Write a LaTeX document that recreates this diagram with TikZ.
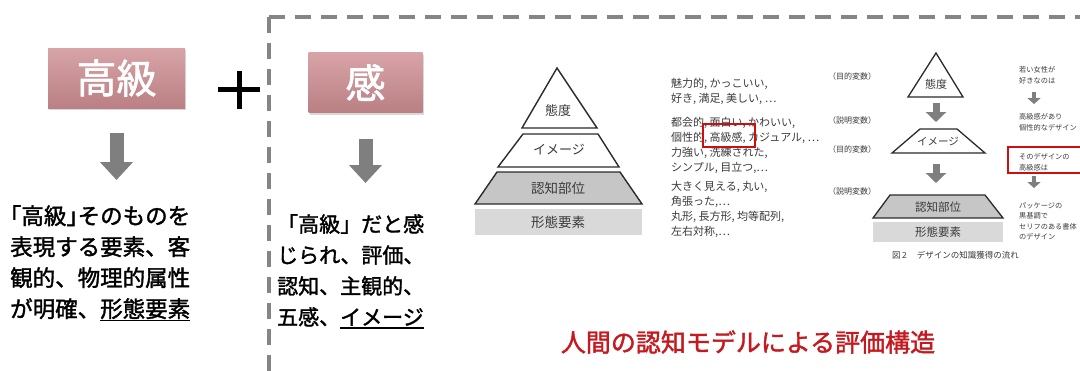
\documentclass[tikz,border=0pt]{standalone}
\usepackage{fontspec}
\setmainfont{Noto Sans CJK JP}
\newfontfamily\jpmed[FakeBold=1.6]{Noto Sans CJK JP}
\newfontfamily\jphalt[FakeBold=1.6,RawFeature=+halt]{Noto Sans CJK JP}
\usetikzlibrary{shapes.arrows,shadows,arrows.meta}
\definecolor{dashgray}{HTML}{858585}
\definecolor{arrgray}{HTML}{7F7F7F}
\definecolor{rosetop}{HTML}{D8A4A7}
\definecolor{rosebot}{HTML}{BA8084}
\definecolor{capred}{HTML}{C41A1F}
\definecolor{boxred}{HTML}{CC1010}
\definecolor{pyline}{HTML}{2B2B2B}
\definecolor{pygray}{HTML}{C6C6C6}
\definecolor{pylight}{HTML}{D9D9D9}
\definecolor{txtgray}{HTML}{3A3A3A}
\newcommand\myul[1]{\setbox0\hbox{#1}\rlap{\rule[-4pt]{\wd0}{1.6pt}}\box0}
\newcommand\hb[1]{{\jphalt #1}}
\begin{document}
\begin{tikzpicture}[x=1pt,y=-1pt,
  dashbrd/.style={draw=dashgray,line width=4pt,dash pattern=on 16pt off 10pt},
  titlebox/.style={rectangle,inner sep=0pt,minimum width=137pt,minimum height=60pt,
    top color=rosetop,bottom color=rosebot,text=white,font=\jpmed\fontsize{40}{40}\selectfont,
    drop shadow={opacity=0.3,shadow xshift=1pt,shadow yshift=-2pt}},
  bigconn/.style={draw=arrgray,line width=14pt,-{Triangle[width=32pt,length=18pt]}},
  midconn/.style={draw=arrgray,line width=7pt,-{Triangle[width=20pt,length=10pt]}},
  smallconn/.style={draw=arrgray,line width=4.5pt,-{Triangle[width=13pt,length=6pt]}},
  bodytext/.style={anchor=north west,inner sep=0pt,align=left,text=black},
  scantext/.style={anchor=north west,inner sep=0pt,align=left,text=txtgray,font=\fontsize{11}{15}\selectfont},
  coltext/.style={anchor=north west,inner sep=0pt,align=left,text=txtgray,font=\fontsize{7.2}{10.4}\selectfont},
  varlabel/.style={anchor=west,inner sep=0pt,text=txtgray,font=\fontsize{8}{8}\selectfont},
  pyshape/.style={draw=pyline,line width=1.4pt,line join=miter},
  pylabel/.style={inner sep=0pt,text=txtgray},
  redbox/.style={draw=boxred,line width=2pt}
]
\useasboundingbox (0,0) rectangle (1080,370);
% dashed frame
\draw[dashbrd] (269,17) -- (1100,17);
\draw[dashbrd] (269,17) -- (269,380);
% title boxes
\node[titlebox] (b1) at (116.5,78) {高級};
\node[titlebox,minimum width=114pt] (b2) at (365.5,82.5) {感};
\draw[line width=5pt] (218,89) -- (260,89) (239,71) -- (239,109);
% text blocks
\node[bodytext,font=\jpmed\fontsize{22.5}{31}\selectfont] (t1) at (10,205)
  {\hb{「}高級\hb{」}そのものを\\表現する要素、客\\観的、物理的属性\\が明確、\myul{形態要素}};
\node[bodytext,font=\jpmed\fontsize{21}{31}\selectfont] (t2) at (277,214)
  {「高級」だと感\\じられ、評価、\\認知、主観的、\\五感、\myul{イメージ}};
\draw[bigconn,shorten <=25pt,shorten >=25pt] (b1.south) -- (b1.south |- t1.north);
\draw[bigconn,shorten <=26pt,shorten >=31pt] (b2.south) -- (b2.south |- t2.north);
% left pyramid
\draw[pyshape,fill=white] (557,68) -- (597,128) -- (522,128) -- cycle;
\draw[pyshape,fill=white] (523,134) -- (598,134) -- (619,167) -- (498,167) -- cycle;
\draw[pyshape,fill=pygray] (497,172) -- (620,172) -- (642,204) -- (475,204) -- cycle;
\fill[pylight] (475,209) rectangle (642,235);
\node[pylabel,font=\fontsize{13}{13}\selectfont] (p1) at (558,111) {態度};
\node[pylabel,font=\fontsize{13}{13}\selectfont] (p2) at (559,150) {イメージ};
\node[pylabel,font=\fontsize{13.5}{13.5}\selectfont] (p3) at (558,188) {認知部位};
\node[pylabel,font=\fontsize{13.5}{13.5}\selectfont] (p4) at (558,222) {形態要素};
% scanned text column
\node[scantext] (g1) at (671,78) {魅力的, かっこいい,\\好き, 満足, 美しい, …};
\node[scantext] (g2) at (671,117) {都会的, 面白い, かわいい,\\個性的, 高級感, カジュアル, …\\力強い, 洗練された,\\シンプル, 目立つ,…};
\node[scantext] (g3) at (671,181) {大きく見える, 丸い,\\角張った,…};
\node[scantext] (g4) at (671,211) {丸形, 長方形, 均等配列,\\左右対称,…};
\draw[redbox] (703,124) rectangle (755,147);
% right diagram
\node[varlabel] (v1) at (828,76) {（目的変数）};
\node[varlabel] (v2) at (828,120) {（説明変数）};
\node[varlabel] (v3) at (828,149) {（目的変数）};
\node[varlabel] (v4) at (828,191) {（説明変数）};
\draw[pyshape,line width=1.3pt,fill=white] (936,53) -- (963,97) -- (908,97) -- cycle;
\draw[pyshape,line width=1.3pt,fill=white] (920,129) -- (957,129) -- (985,153) -- (892,153) -- cycle;
\draw[pyshape,line width=1.3pt,fill=pygray] (890,195) -- (985,195) -- (1003,218) -- (873,218) -- cycle;
\fill[pylight] (873,222) rectangle (1003,242);
\node[pylabel,font=\fontsize{11}{11}\selectfont] (q1) at (936,84) {態度};
\node[pylabel,font=\fontsize{10.5}{10.5}\selectfont] (q2) at (938,142) {イメージ};
\node[pylabel,font=\fontsize{11.5}{11.5}\selectfont] (q3) at (938,207) {認知部位};
\node[pylabel,font=\fontsize{11.5}{11.5}\selectfont] (q4) at (938,232) {形態要素};
\coordinate (m1s) at (936,103);
\coordinate (m1e) at (936,122);
\coordinate (m2s) at (936,164);
\coordinate (m2e) at (936,183);
\draw[midconn] (m1s) -- (m1e);
\draw[midconn] (m2s) -- (m2e);
\node[anchor=west,inner sep=0pt,text=txtgray,font=\fontsize{8.5}{8.5}\selectfont] (fig) at (892,255)
  {図\,2\hspace{10pt}デザインの知識獲得の流れ};
% right column
\node[coltext] (r1) at (1019,66.5) {若い女性が\\好きなのは};
\node[coltext] (r2) at (1019,113.5) {高級感があり\\個性的なデザイン};
\node[coltext] (r3) at (1019,153.5) {そのデザインの\\高級感は};
\node[coltext] (r4) at (1019,202.5) {パッケージの\\黒基調で\\セリフのある書体\\のデザイン};
\draw[redbox,line width=1.6pt] (1008,147) rectangle (1095,173);
\coordinate (s1s) at (1034,92);
\coordinate (s1e) at (1034,104);
\coordinate (s2s) at (1034,176);
\coordinate (s2e) at (1034,188);
\draw[smallconn] (s1s) -- (s1e);
\draw[smallconn] (s2s) -- (s2e);
% caption
\node[inner sep=0pt,text=capred,font=\jpmed\fontsize{25}{25}\selectfont] (cap) at (748,342)
  {人間の認知モデルによる評価構造};
\end{tikzpicture}
\end{document}
